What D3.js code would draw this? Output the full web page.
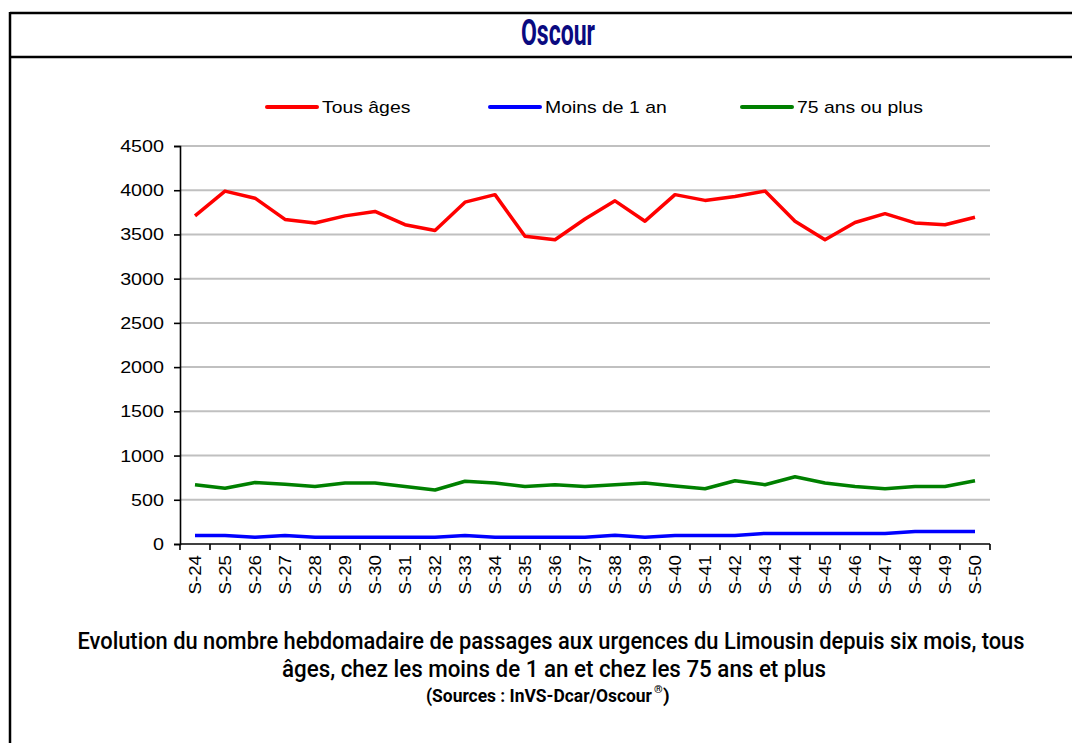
<!DOCTYPE html>
<html>
<head>
<meta charset="utf-8">
<script src="https://cdn.jsdelivr.net/npm/d3@7"></script>
<style>
  html, body { margin: 0; padding: 0; background: #fff; }
  svg { display: block; }
</style>
</head>
<body>
<div id="chart"></div>
<script>
// weekly ER visits, Limousin
const weeks = ['S-24','S-25','S-26','S-27','S-28','S-29','S-30','S-31','S-32','S-33','S-34','S-35','S-36','S-37',
               'S-38','S-39','S-40','S-41','S-42','S-43','S-44','S-45','S-46','S-47','S-48','S-49','S-50'];
const tousAges = [3710,3990,3910,3670,3630,3710,3760,3610,3545,3865,3950,3480,3440,3675,
                  3880,3650,3950,3885,3930,3990,3650,3440,3635,3735,3630,3610,3695];
const moins1an = [95,95,75,95,75,75,75,75,75,95,75,75,75,75,
                  100,75,95,95,95,120,120,120,120,120,140,140,140];
const plus75 = [670,630,695,675,650,690,690,650,610,710,690,650,670,650,
                670,690,655,625,715,670,760,690,650,625,650,650,715];
const yTicks = [0,500,1000,1500,2000,2500,3000,3500,4000,4500];
const seriesNames = ['Tous âges','Moins de 1 an','75 ans ou plus'];
const seriesColors = ['#ff0000','#0000ff','#008000'];

const W = 1072, H = 743;
const svg = d3.select('#chart').append('svg').attr('width', W).attr('height', H);

// widen text a bit, the original looks horizontally stretched
function stretch(sel, f) {
  sel.each(function() {
    const l = this.getComputedTextLength();
    d3.select(this).attr('textLength', l * f).attr('lengthAdjust', 'spacingAndGlyphs');
  });
}
function fitTo(sel, len) {
  sel.attr('textLength', len).attr('lengthAdjust', 'spacingAndGlyphs');
}

// frame
svg.append('line').attr('x1', 10).attr('x2', W).attr('y1', 13).attr('y2', 13).attr('stroke', '#000').attr('stroke-width', 2.5);
svg.append('line').attr('x1', 10).attr('x2', W).attr('y1', 57).attr('y2', 57).attr('stroke', '#000').attr('stroke-width', 2.5);
svg.append('line').attr('x1', 10).attr('x2', 10).attr('y1', 12).attr('y2', H).attr('stroke', '#000').attr('stroke-width', 2.5);

// title
svg.append('text').attr('x', 558).attr('y', 45).attr('text-anchor', 'middle')
  .attr('font-family', 'Roboto, "Liberation Sans", sans-serif').attr('font-size', 36).attr('font-weight', 'bold')
  .attr('fill', '#0a0a80').text('Oscour')
  .call(fitTo, 74);

const pLeft = 180, pRight = 990, pTop = 146, pBottom = 544;

const x = d3.scaleBand().domain(weeks).range([pLeft, pRight]);
const y = d3.scaleLinear().domain([0, 4500]).range([pBottom, pTop]);

// gridlines
svg.append('g').selectAll('line').data(yTicks.slice(1)).enter().append('line')
  .attr('x1', pLeft).attr('x2', pRight)
  .attr('y1', d => y(d)).attr('y2', d => y(d))
  .attr('stroke', '#c0c0c0').attr('stroke-width', 2);

// y axis
const gy = svg.append('g').attr('transform', 'translate(' + pLeft + ',0)')
  .call(d3.axisLeft(y).tickValues(yTicks).tickFormat(d3.format('d')).tickSize(6).tickPadding(10));
gy.select('.domain').attr('stroke', '#000').attr('stroke-width', 1.6);
gy.selectAll('.tick line').attr('stroke', '#000').attr('stroke-width', 1.6);
gy.selectAll('text').attr('font-family', '"Liberation Sans", Arial, sans-serif')
  .attr('font-size', 17).attr('fill', '#000').call(stretch, 1.16);

// x axis: labels at centres, ticks between categories
const gx = svg.append('g').attr('transform', 'translate(0,' + pBottom + ')')
  .call(d3.axisBottom(x).tickSize(0).tickPadding(0));
gx.select('.domain').remove();
gx.selectAll('text')
  .attr('font-family', '"Liberation Sans", Arial, sans-serif').attr('font-size', 17).attr('fill', '#000')
  .attr('text-anchor', 'end').attr('transform', 'rotate(-90)')
  .attr('x', -11).attr('y', 0).attr('dy', '0.35em')
  .call(stretch, 1.1);
svg.append('line').attr('x1', pLeft).attr('x2', pRight).attr('y1', pBottom).attr('y2', pBottom)
  .attr('stroke', '#000').attr('stroke-width', 1.6);
svg.append('g').selectAll('line').data(weeks.concat(['end'])).enter().append('line')
  .attr('x1', d => d === 'end' ? pRight : x(d)).attr('x2', d => d === 'end' ? pRight : x(d))
  .attr('y1', pBottom).attr('y2', pBottom + 6)
  .attr('stroke', '#000').attr('stroke-width', 1.6);

// lines
const line = d3.line().x((d, i) => x(weeks[i]) + x.bandwidth() / 2).y(d => y(d));
[tousAges, moins1an, plus75].forEach((s, k) => {
  svg.append('path').datum(s).attr('d', line)
    .attr('fill', 'none').attr('stroke', seriesColors[k])
    .attr('stroke-width', 3.5).attr('stroke-linejoin', 'round');
});

// legend
const legX = [267, 490, 742];
seriesNames.forEach((n, k) => {
  svg.append('line').attr('x1', legX[k]).attr('x2', legX[k] + 50).attr('y1', 107).attr('y2', 107)
    .attr('stroke', seriesColors[k]).attr('stroke-width', 4).attr('stroke-linecap', 'round');
  svg.append('text').attr('x', legX[k] + 55).attr('y', 113)
    .attr('font-family', '"Liberation Sans", Arial, sans-serif').attr('font-size', 17)
    .attr('fill', '#000').text(n).call(stretch, 1.14);
});

// caption
const capFont = 'Roboto, "Liberation Sans", sans-serif';
svg.append('text').attr('x', 551).attr('y', 649).attr('text-anchor', 'middle')
  .attr('font-family', capFont).attr('font-size', 24).attr('font-weight', 500).attr('fill', '#000')
  .text('Evolution du nombre hebdomadaire de passages aux urgences du Limousin depuis six mois, tous')
  .call(fitTo, 947);
svg.append('text').attr('x', 554).attr('y', 677).attr('text-anchor', 'middle')
  .attr('font-family', capFont).attr('font-size', 24).attr('font-weight', 500).attr('fill', '#000')
  .text('âges, chez les moins de 1 an et chez les 75 ans et plus')
  .call(fitTo, 544);

// sources line, the ® and closing bracket as separate texts
const srcX = 426, srcY = 702;
svg.append('text').attr('x', srcX).attr('y', srcY)
  .attr('font-family', capFont).attr('font-size', 19).attr('font-weight', 'bold').attr('fill', '#000')
  .text('(Sources : InVS-Dcar/Oscour').call(fitTo, 226);
svg.append('text').attr('x', srcX + 228).attr('y', srcY - 9)
  .attr('font-family', capFont).attr('font-size', 11).attr('font-weight', 'bold').attr('fill', '#000')
  .text('®');
svg.append('text').attr('x', srcX + 237).attr('y', srcY)
  .attr('font-family', capFont).attr('font-size', 19).attr('font-weight', 'bold').attr('fill', '#000')
  .text(')');
</script>
</body>
</html>
